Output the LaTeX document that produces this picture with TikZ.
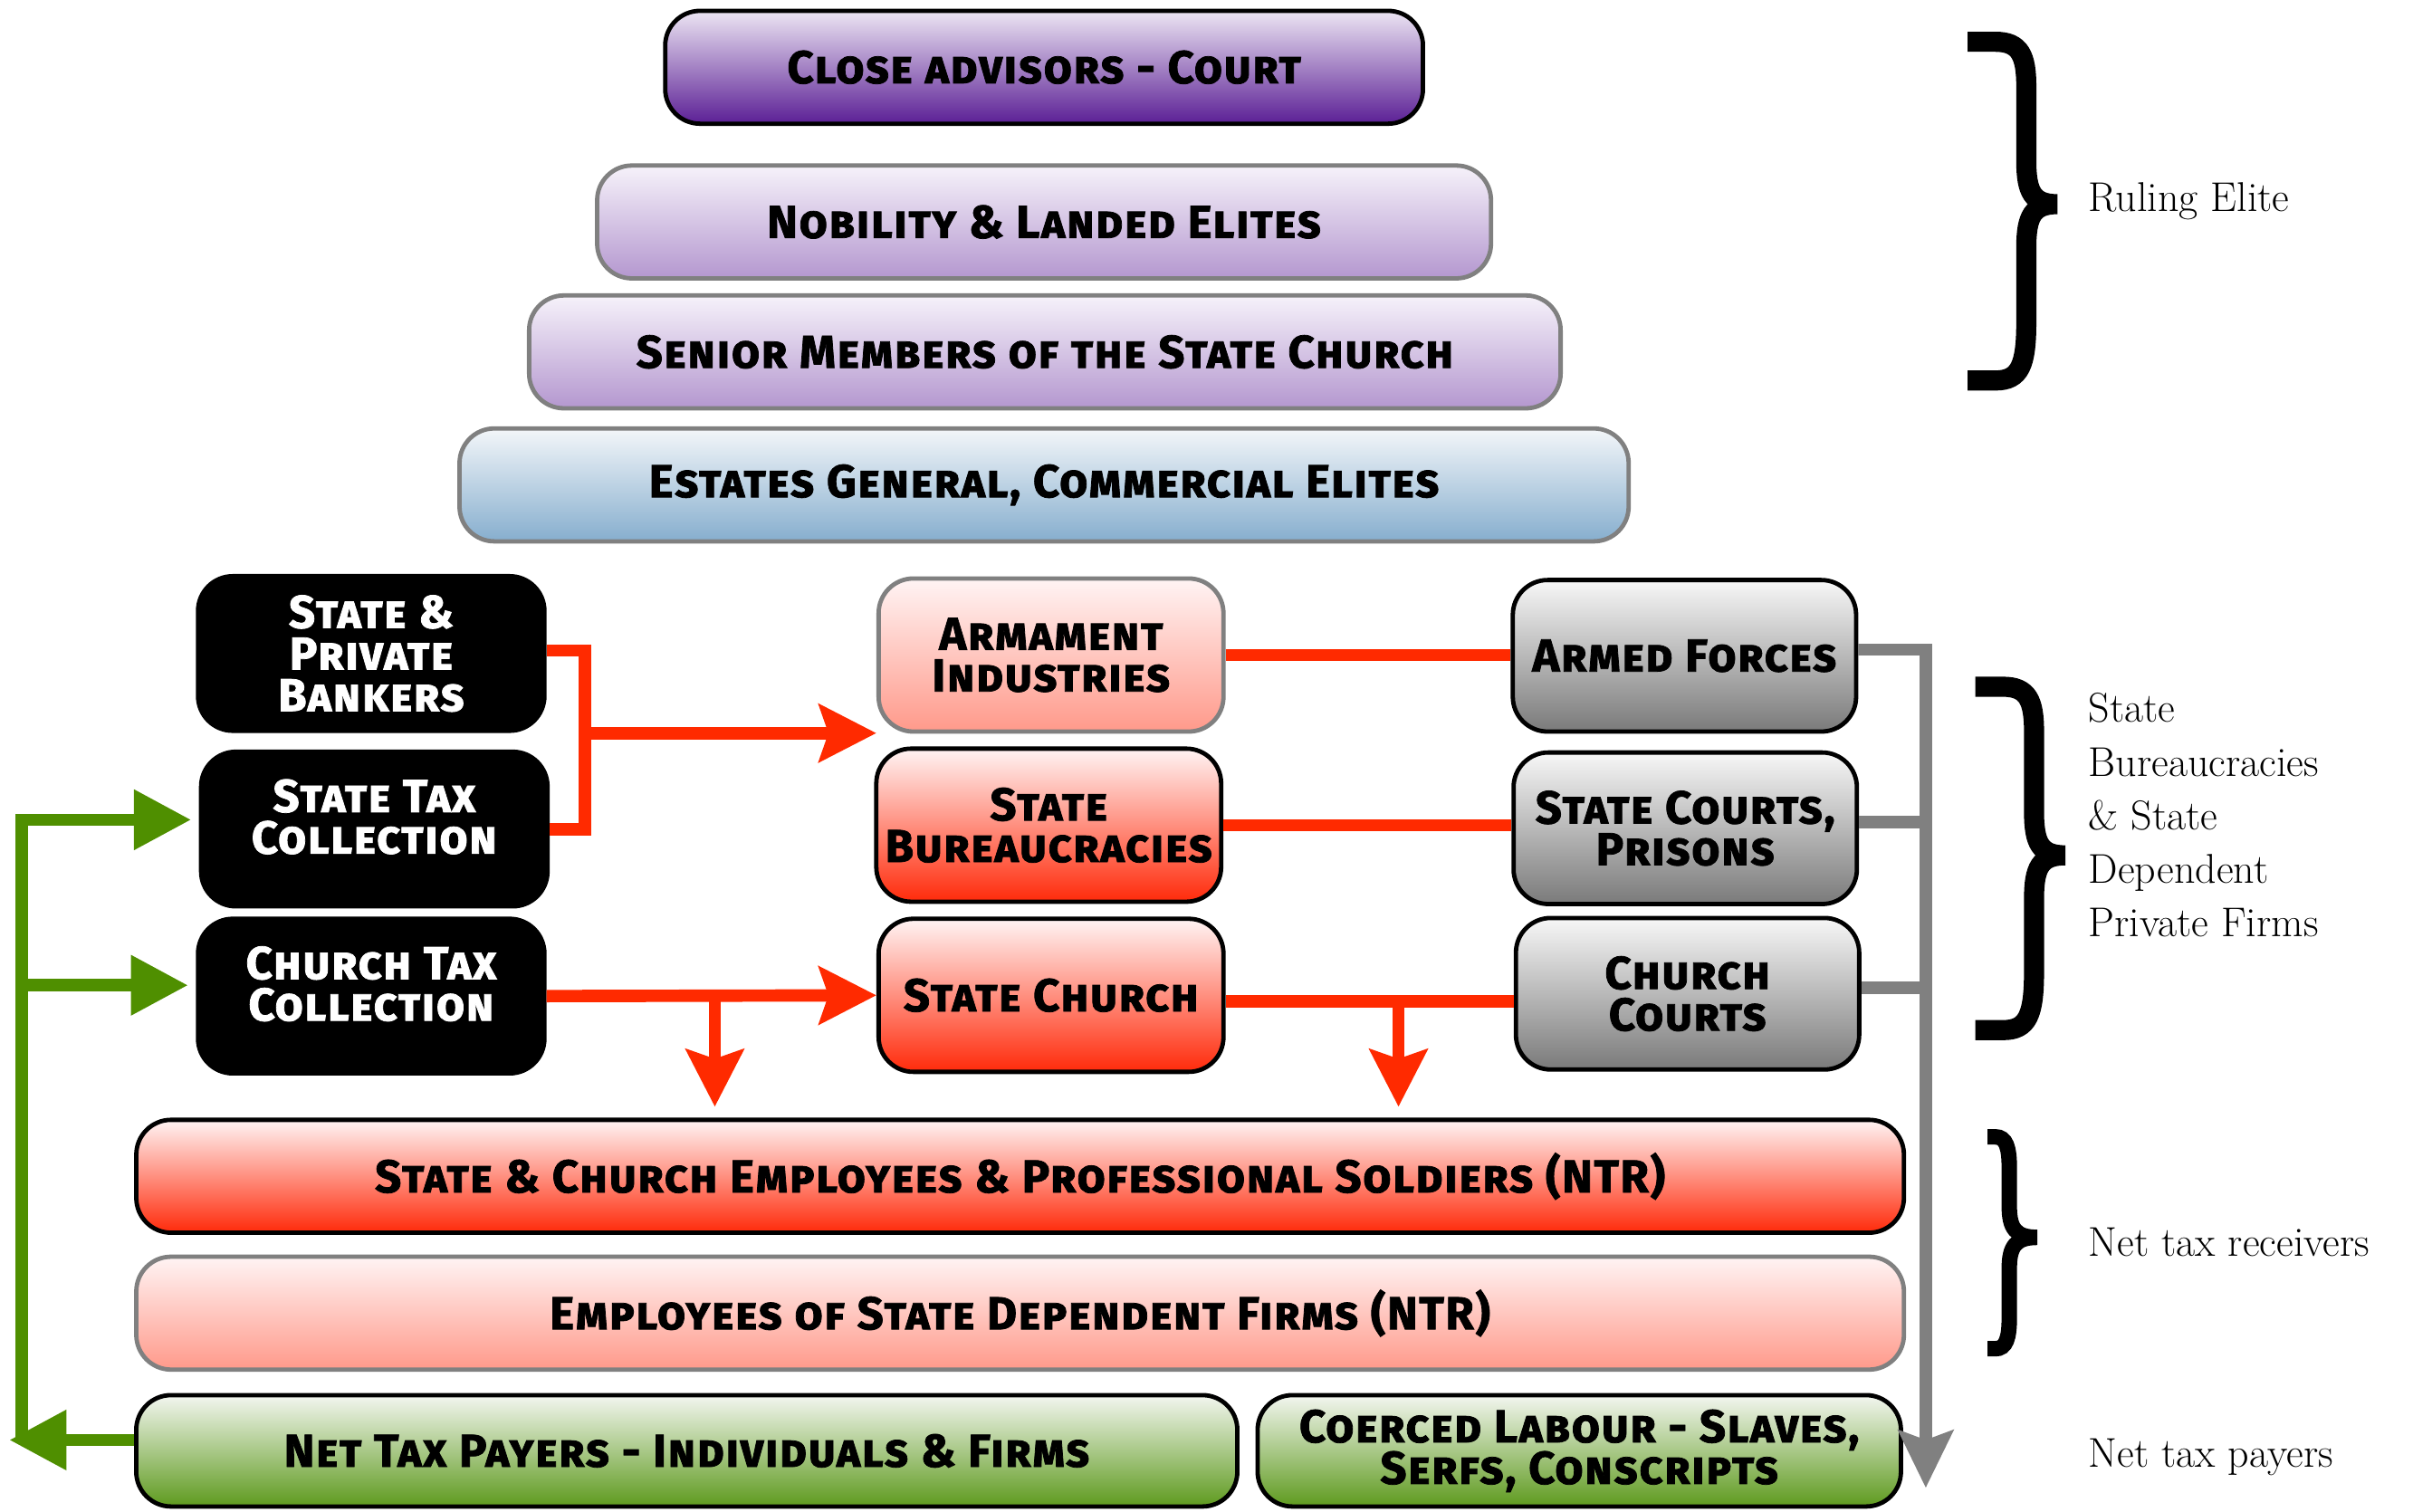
\documentclass[tikz,border=0pt]{standalone}
\usepackage{fontspec}
\usepackage{xcolor}
\newfontfamily\boxfont{Fira Sans}[Letters=SmallCaps, LetterSpace=3, BoldFeatures={FakeBold=1.5}]
\usetikzlibrary{arrows.meta,calc}

\definecolor{tkred}{HTML}{FF2A00}
\definecolor{tkgreen}{HTML}{4F8F00}
\definecolor{tkgrey}{HTML}{808080}
\definecolor{lila}{HTML}{B497CF}
\definecolor{lilatop}{HTML}{F6F2FA}
\definecolor{courtbot}{HTML}{5B1F95}
\definecolor{courtmid}{HTML}{A887C8}
\definecolor{courttop}{HTML}{ECE5F3}
\definecolor{estbot}{HTML}{86AECE}
\definecolor{esttop}{HTML}{F3F6F9}
\definecolor{pinktop}{HTML}{FFF4F4}
\definecolor{pinkbot}{HTML}{FF998A}
\definecolor{redmid}{HTML}{FF9C90}
\definecolor{redbot}{HTML}{FF2A0A}
\definecolor{greytop}{HTML}{F7F7F7}
\definecolor{greybot}{HTML}{7A7A7A}
\definecolor{greentop}{HTML}{F3F6F0}
\definecolor{greenbot}{HTML}{5E9A1E}

\tikzset{
  box/.style={rounded corners=0.45cm, line width=1.6pt, align=center, inner sep=0pt,
    font={\boxfont\bfseries\fontsize{17}{15.3}\selectfont}},
  court/.style={box, draw=black, top color=courttop, middle color=courtmid, bottom color=courtbot},
  elite/.style={box, draw=tkgrey, top color=lilatop, bottom color=lila},
  estate/.style={box, draw=tkgrey, top color=esttop, bottom color=estbot},
  purse/.style={box, draw=black, fill=black, text=white},
  pink/.style={box, draw=tkgrey, top color=pinktop, bottom color=pinkbot},
  redbox/.style={box, draw=black, top color=pinktop, middle color=redmid, bottom color=redbot},
  greybox/.style={box, draw=black, top color=greytop, bottom color=greybot},
  greenbox/.style={box, draw=black, top color=greentop, bottom color=greenbot},
  redline/.style={draw=tkred, line width=0.16cm, line join=miter},
  redarrow/.style={redline, -{Stealth[length=0.74cm, width=0.74cm, inset=0.12cm]}},
  greyline/.style={draw=tkgrey, line width=0.16cm, line join=miter},
  greyarrow/.style={greyline, -{Stealth[length=0.74cm, width=0.7cm, inset=0.12cm]}},
  greenline/.style={draw=tkgreen, line width=0.16cm, line join=miter},
  greenarrow/.style={greenline, -{Triangle[length=0.74cm, width=0.74cm]}},
  brace/.style={line width=0.26cm},
  label/.style={anchor=west, align=left, inner sep=0pt, font=\fontsize{15.3}{19.7}\selectfont}
}

\begin{document}
\begin{tikzpicture}[x=0.02cm, y=-0.02cm]
  \useasboundingbox (0,0) rectangle (1560,977);
  % ruling elite
  \node[court, minimum width=9.8cm, minimum height=1.46cm] (court) at (675,43.5) {Close advisors - Court};
  \node[elite, minimum width=11.56cm, minimum height=1.46cm] (nobles) at (675,143.5) {Nobility \& Landed Elites};
  \node[elite, minimum width=13.34cm, minimum height=1.46cm] (senior) at (675.5,227.5) {Senior Members of the State Church};
  \node[estate, minimum width=15.12cm, minimum height=1.46cm] (estates) at (675,313.5) {Estates General, Commercial Elites};
  % money
  \node[purse, minimum width=4.48cm, minimum height=2cm] (bankers) at (240,422.5) {State \&\\Private\\Bankers};
  \node[purse, minimum width=4.48cm, minimum height=2cm] (statetax) at (242,536) {State Tax\\Collection\\[-6pt]};
  \node[purse, minimum width=4.48cm, minimum height=2cm] (churchtax) at (240,644) {Church Tax\\Collection\\[-6pt]};
  % state
  \node[pink, minimum width=4.46cm, minimum height=1.98cm] (arms) at (679.5,423.5) {Armament\\Industries};
  \node[redbox, minimum width=4.46cm, minimum height=1.98cm] (bureau) at (678,533.5) {State\\Bureaucracies};
  \node[redbox, minimum width=4.46cm, minimum height=1.98cm] (church) at (679.5,643.5) {State Church};
  \node[greybox, minimum width=4.44cm, minimum height=1.96cm] (forces) at (1089,424) {Armed Forces};
  \node[greybox, minimum width=4.44cm, minimum height=1.96cm] (courts) at (1089.5,535.5) {State Courts,\\Prisons};
  \node[greybox, minimum width=4.44cm, minimum height=1.96cm] (chcourts) at (1091,642.5) {Church\\Courts};
  % bars
  \node[redbox, minimum width=22.86cm, minimum height=1.46cm] (employees) at (659.5,760.5) {State \& Church Employees \& Professional Soldiers (NTR)};
  \node[pink, minimum width=22.86cm, minimum height=1.46cm] (firms) at (659.5,849) {Employees of State Dependent Firms (NTR)};
  \node[greenbox, minimum width=14.24cm, minimum height=1.44cm] (payers) at (444,938) {Net Tax Payers - Individuals \& Firms};
  \node[greenbox, minimum width=8.32cm, minimum height=1.44cm] (coerced) at (1021,938) {Coerced Labour - Slaves,\\Serfs, Conscripts};

  % red flows
  \coordinate (rj) at (378,474);
  \draw[redline] ($(bankers.east)+(0,-2)$) -| (rj) |- (statetax.east);
  \draw[redarrow] (rj) -- (rj -| arms.west);
  \draw[redarrow] (churchtax.east) -- (church.west);
  \coordinate (ctb) at ($(churchtax.east)!.51!(church.west)$);
  \draw[redarrow] (ctb) -- ([yshift=4pt]ctb |- employees.north);
  \draw[redline] (arms.east) -- (arms.east -| forces.west);
  \draw[redline] (bureau.east) -- (bureau.east -| courts.west);
  \draw[redline] ($(church.east)+(0,4)$) -- ($(church.east -| chcourts.west)+(0,4)$);
  \coordinate (scb) at ($(church.east)!.6!(chcourts.west)+(0,4)$);
  \draw[redarrow] (scb) -- ([yshift=4pt]scb |- employees.north);

  % grey flows
  \coordinate (gend) at (1245,962);
  \draw[greyarrow] ($(forces.east)+(0,-4)$) -| (gend);
  \draw[greyline] ($(courts.east)+(0,-4)$) -- ($(courts.east -| gend)+(0,-4)$);
  \draw[greyline] ($(chcourts.east)+(0,-4)$) -- ($(chcourts.east -| gend)+(0,-4)$);

  % green flows
  \coordinate (gl) at (14,931);
  \coordinate (gtip) at (6,931);
  \draw[greenarrow] ($(payers.west)+(0,-7)$) -- (gtip);
  \draw[greenarrow, shorten >=0.1cm] (gl) |- ($(statetax.west)+(0,-6)$);
  \draw[greenarrow, shorten >=0.1cm] ($(gl |- churchtax.west)+(0,-7)$) -- ($(churchtax.west)+(0,-7)$);

  % braces
  \draw[brace] (1272,27) -- (1290,27) .. controls (1306,27) and (1310,36) .. (1310,56) -- (1310,104)
    .. controls (1310,124) and (1314,132) .. (1330,132) .. controls (1314,132) and (1310,140) .. (1310,160)
    -- (1310,208) .. controls (1310,236) and (1306,246) .. (1290,246) -- (1272,246);
  \draw[brace] (1277,444) -- (1295,444) .. controls (1311,444) and (1315,453) .. (1315,473) -- (1315,525)
    .. controls (1315,545) and (1319,553) .. (1335,553) .. controls (1319,553) and (1315,561) .. (1315,581)
    -- (1315,628) .. controls (1315,656) and (1311,666) .. (1295,666) -- (1277,666);
  \draw[brace, line width=0.2cm] (1285,735) -- (1290,735) .. controls (1297,735) and (1299,742) .. (1299,755) -- (1299,780)
    .. controls (1299,794) and (1303,800) .. (1317,800) .. controls (1303,800) and (1299,806) .. (1299,820)
    -- (1299,852) .. controls (1299,865) and (1297,872) .. (1290,872) -- (1285,872);

  % groups
  \node[label] (rule) at (1350,130) {Ruling Elite};
  \node[label] (bureaux) at (1350,527) {State\\Bureaucracies\\\& State\\Dependent\\Private Firms};
  \node[label] (ntr) at (1350,803) {Net tax receivers};
  \node[label] (ntp) at (1350,942) {Net tax payers};
\end{tikzpicture}
\end{document}
